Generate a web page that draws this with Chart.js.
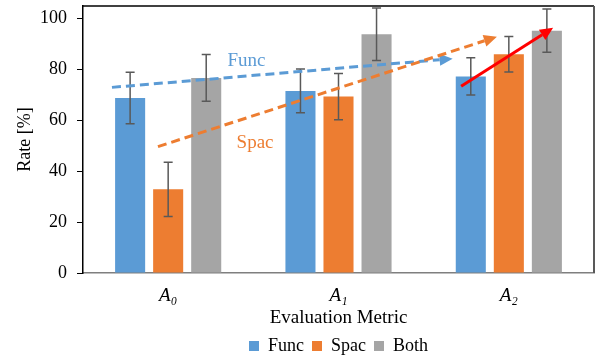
<!DOCTYPE html>
<html>
<head>
<meta charset="utf-8">
<script src="https://cdn.jsdelivr.net/npm/chart.js@4"></script>
<style>
  html, body { margin: 0; padding: 0; background: #fff; }
</style>
</head>
<body>
<canvas id="bar-chart" width="600" height="358"></canvas>
<script>
const categories = ["A₀", "A₁", "A₂"];
const funcRate = [68.8, 71.6, 77.3];
const spacRate = [32.9, 69.4, 86.0];
const bothRate = [76.7, 93.9, 95.3];
const funcErr = [10.1, 8.6, 7.3];
const spacErr = [10.7, 9.1, 7.0];
const bothErr = [9.2, 10.3, 8.5];
const yTicks = [0, 20, 40, 60, 80, 100];

// trend arrows, [category position, rate] for start and end
const funcTrend = [[-0.33, 73.0], [1.67, 84.3]];
const spacTrend = [[-0.06, 49.7], [1.93, 92.9]];
const bothTrend = [[1.72, 73.4], [2.26, 96.4]];
// annotation text spots, [category position, rate]
const funcLabelAt = [0.46, 83.5];
const spacLabelAt = [0.51, 51.2];

const serif = "'Liberation Serif', 'Times New Roman', serif";

// error bars on top of every bar
const errorBars = {
    id: "errorBars",
    afterDatasetsDraw(chart) {
        const ctx = chart.ctx;
        const y = chart.scales.y;
        ctx.save();
        ctx.strokeStyle = "#595959";
        ctx.lineWidth = 1.5;
        chart.data.datasets.forEach((ds, i) => {
            chart.getDatasetMeta(i).data.forEach((bar, j) => {
                const top = y.getPixelForValue(ds.data[j] + ds.errors[j]);
                const bot = y.getPixelForValue(ds.data[j] - ds.errors[j]);
                ctx.beginPath();
                ctx.moveTo(bar.x, top);
                ctx.lineTo(bar.x, bot);
                ctx.moveTo(bar.x - 4.5, top);
                ctx.lineTo(bar.x + 4.5, top);
                ctx.moveTo(bar.x - 4.5, bot);
                ctx.lineTo(bar.x + 4.5, bot);
                ctx.stroke();
            });
        });
        ctx.restore();
    },
};

function drawArrow(ctx, x0, y0, x1, y1, color, dash) {
    const ang = Math.atan2(y1 - y0, x1 - x0);
    const head = 13, half = 6;
    const bx = x1 - head * Math.cos(ang);
    const by = y1 - head * Math.sin(ang);
    ctx.save();
    ctx.strokeStyle = color;
    ctx.fillStyle = color;
    ctx.lineWidth = 3;
    ctx.setLineDash(dash);
    ctx.beginPath();
    ctx.moveTo(x0, y0);
    ctx.lineTo(bx, by);
    ctx.stroke();
    ctx.setLineDash([]);
    ctx.beginPath();
    ctx.moveTo(x1, y1);
    ctx.lineTo(bx + half * Math.sin(ang), by - half * Math.cos(ang));
    ctx.lineTo(bx - half * Math.sin(ang), by + half * Math.cos(ang));
    ctx.closePath();
    ctx.fill();
    ctx.restore();
}

// frame, trend arrows and their labels
const overlay = {
    id: "overlay",
    afterLayout(chart) {
        // center the legend under the plot area, not the whole canvas
        chart.legend.left = chart.chartArea.left;
        chart.legend.right = chart.chartArea.right;
    },
    afterDraw(chart) {
        const { ctx, chartArea: a, scales: { x, y } } = chart;
        ctx.save();
        ctx.strokeStyle = "#000";
        ctx.lineWidth = 1.5;
        ctx.beginPath();
        ctx.moveTo(a.left, a.top);
        ctx.lineTo(a.right, a.top);
        ctx.stroke();
        ctx.strokeStyle = "#595959";
        ctx.lineWidth = 2;
        ctx.beginPath();
        ctx.moveTo(a.right, a.top);
        ctx.lineTo(a.right, a.bottom);
        ctx.stroke();
        ctx.restore();

        const px = (p) => [x.getPixelForValue(p[0]), y.getPixelForValue(p[1])];
        const trends = [
            [funcTrend, "#5B9BD5", [9, 5]],
            [spacTrend, "#ED7D31", [9, 5]],
            [bothTrend, "#FF0000", []],
        ];
        trends.forEach(([t, color, dash]) => {
            const [x0, y0] = px(t[0]);
            const [x1, y1] = px(t[1]);
            drawArrow(ctx, x0, y0, x1, y1, color, dash);
        });

        ctx.save();
        ctx.font = "19px " + serif;
        ctx.textAlign = "center";
        ctx.textBaseline = "middle";
        ctx.fillStyle = "#5B9BD5";
        ctx.fillText("Func", ...px(funcLabelAt));
        ctx.fillStyle = "#ED7D31";
        ctx.fillText("Spac", ...px(spacLabelAt));
        ctx.restore();
    },
};

new Chart(document.getElementById("bar-chart"), {
    type: "bar",
    data: {
        labels: categories,
        datasets: [
            { label: "Func", data: funcRate, errors: funcErr, backgroundColor: "#5B9BD5" },
            { label: "Spac", data: spacRate, errors: spacErr, backgroundColor: "#ED7D31" },
            { label: "Both", data: bothRate, errors: bothErr, backgroundColor: "#A5A5A5" },
        ],
    },
    options: {
        responsive: false,
        animation: false,
        categoryPercentage: 0.67,
        barPercentage: 0.79,
        layout: { padding: { top: 6, right: 6, left: 0, bottom: -7 } },
        plugins: {
            tooltip: { enabled: false },
            legend: {
                position: "bottom",
                labels: {
                    boxWidth: 10,
                    boxHeight: 10,
                    padding: 8,
                    color: "#000",
                    font: { size: 18, family: serif },
                },
            },
        },
        scales: {
            x: {
                afterFit: (s) => { s.height = 56; },
                grid: { display: false, drawTicks: false },
                border: { display: true, color: "#7f7f7f", width: 1.5 },
                ticks: { padding: 12, color: "#000", font: { size: 19, style: "italic", family: serif } },
                title: {
                    display: true,
                    text: "Evaluation Metric",
                    color: "#000",
                    font: { size: 19, family: serif },
                    padding: { top: 0, bottom: 0 },
                },
            },
            y: {
                min: 0,
                max: 105,
                afterBuildTicks: (s) => { s.ticks = yTicks.map((v) => ({ value: v })); },
                afterFit: (s) => {
                    s.width = 83;
                    s.paddingTop = 0;
                    s.paddingBottom = 0;
                },
                grid: { display: true, drawOnChartArea: false, drawTicks: true, tickLength: 6, color: "#000" },
                border: { display: true, color: "#000", width: 1.5 },
                ticks: { padding: 10, color: "#000", font: { size: 18, family: serif } },
                title: {
                    display: true,
                    text: "Rate [%]",
                    color: "#000",
                    font: { size: 18, family: serif },
                    padding: { top: 14, bottom: 0 },
                },
            },
        },
    },
    plugins: [errorBars, overlay],
});
</script>
</body>
</html>
